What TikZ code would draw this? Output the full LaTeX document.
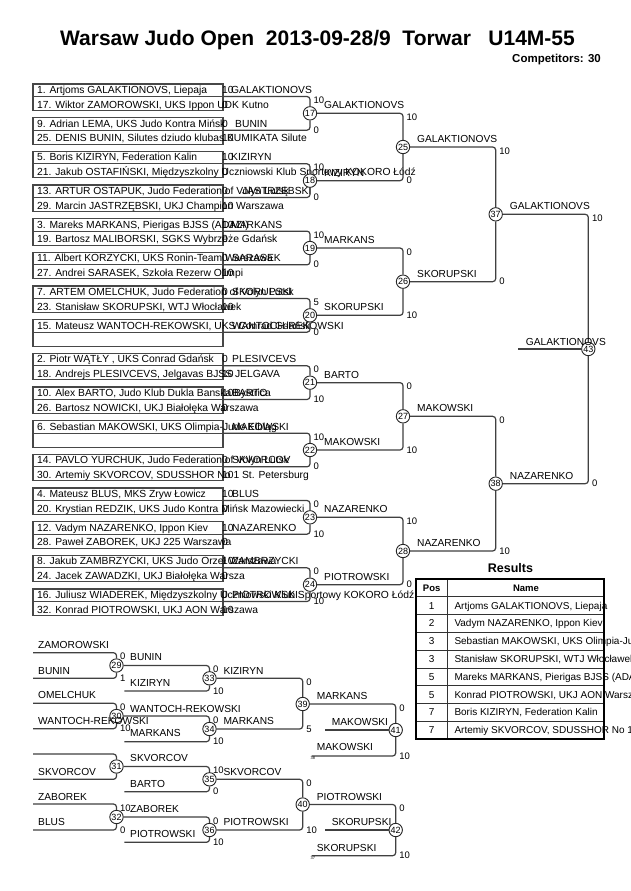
\documentclass[tikz,border=0pt]{standalone}
\usepackage{fontspec}
\setmainfont{Liberation Sans}
\newcommand\jpair[7]{%
 \pgfmathsetmacro\jtop{84+33.667*#1}
 \draw[boxln] (33,\jtop) rectangle (223,\jtop+26.5);
 \draw[boxln] (33,\jtop+12.5) -- (223,\jtop+12.5);
 \coordinate (m#1) at (223,\jtop+12.5);
 \node[ent] (ea#1) at (37,\jtop+9.6) {#2};
 \node[ent] (sa#1) at (222,\jtop+9.6) {#3};
 \node[ent] (eb#1) at (37,\jtop+24.3) {#4};
 \node[ent] (sb#1) at (222,\jtop+24.3) {#5};
 \node[ent] (w#1) at (#7,\jtop+9.6) {#6};
}
\newcommand\scr[6]{%
 \node[sc] (#1t) at (#2+3.5,#3+3.5) {#5};
 \node[sc] (#1b) at (#2+3.5,#4-0.5) {#6};
}
\begin{document}
\begin{tikzpicture}[x=1pt,y=-1pt,
 ln/.style={draw=black!75,line width=1.2pt},
 br/.style={ln,rounded corners=3pt},
 boxln/.style={draw=black!72,line width=1.3pt},
 mc/.style={circle,draw=black!85,line width=0.9pt,fill=white,minimum size=13.4pt,inner sep=0pt,font=\fontsize{9}{9}\selectfont},
 ent/.style={anchor=base west,inner sep=0pt,font=\fontsize{10.3}{12}\selectfont},
 lab/.style={anchor=west,inner sep=0pt,text height=7pt,text depth=0pt,font=\fontsize{10.2}{12}\selectfont},
 sc/.style={anchor=west,inner sep=0pt,text height=7pt,text depth=0pt,font=\fontsize{9.5}{11}\selectfont},
 tinyt/.style={anchor=west,inner sep=0pt,font=\fontsize{4}{4}\selectfont},
 tin/.style={draw=black!80,line width=0.9pt},
 tout/.style={draw=black,line width=1.8pt},
 tname/.style={anchor=west,inner sep=0pt,text height=7pt,text depth=0pt,font=\fontsize{10}{12}\selectfont},
 tpos/.style={inner sep=0pt,text height=7pt,text depth=0pt,font=\fontsize{10}{12}\selectfont},
]
\useasboundingbox (0,0) rectangle (630,891);
\fill[white] (0,0) rectangle (630,891);

% title
\node[font=\bfseries\fontsize{21}{24}\selectfont] (title) at (317.5,40) {Warsaw Judo Open\ \ 2013-09-28/9\ \ Torwar\ \ \ U14M-55};
\node[anchor=east,inner sep=0pt,font=\bfseries\fontsize{11.5}{13}\selectfont] (comp) at (601,60) {Competitors: 30};

% entries
\jpair{0}{1. Artjoms GALAKTIONOVS, Liepaja}{10}{17. Wiktor ZAMOROWSKI, UKS Ippon UDK Kutno}{0}{GALAKTIONOVS}{231}
\jpair{1}{9. Adrian LEMA, UKS Judo Kontra Mińsk}{0}{25. DENIS BUNIN, Silutes dziudo klubas KUMIKATA Silute}{10}{BUNIN}{235}
\jpair{2}{5. Boris KIZIRYN, Federation Kalin}{10}{21. Jakub OSTAFIŃSKI, Międzyszkolny Uczniowski Klub Sportowy KOKORO Łódź}{0}{KIZIRYN}{231}
\jpair{3}{13. ARTUR OSTAPUK, Judo Federation of Volyn Lutsk}{0}{29. Marcin JASTRZĘBSKI, UKJ Champion Warszawa}{10}{JASTRZĘBSKI}{242}
\jpair{4}{3. Mareks MARKANS, Pierigas BJSS (ADAZI)}{10}{19. Bartosz MALIBORSKI, SGKS Wybrzeże Gdańsk}{0}{MARKANS}{231}
\jpair{5}{11. Albert KORZYCKI, UKS Ronin-Team Warszawa}{0}{27. Andrei SARASEK, Szkoła Rezerw Olimpi}{10}{SARASEK}{232}
\jpair{6}{7. ARTEM OMELCHUK, Judo Federation of Volyn Lutsk}{0}{23. Stanisław SKORUPSKI, WTJ Włocławek}{10}{SKORUPSKI}{232}
\jpair{7}{15. Mateusz WANTOCH-REKOWSKI, UKS Conrad Gdańsk}{}{}{}{WANTOCH-REKOWSKI}{232}
\jpair{8}{2. Piotr WĄTŁY , UKS Conrad Gdańsk}{0}{18. Andrejs PLESIVCEVS, Jelgavas BJSS JELGAVA}{10}{PLESIVCEVS}{232}
\jpair{9}{10. Alex BARTO, Judo Klub Dukla Banska Bystrica}{10}{26. Bartosz NOWICKI, UKJ Białołęka Warszawa}{0}{BARTO}{232}
\jpair{10}{6. Sebastian MAKOWSKI, UKS Olimpia-Judo Elbląg}{}{}{}{MAKOWSKI}{232}
\jpair{11}{14. PAVLO YURCHUK, Judo Federation of Volyn Lutsk}{0}{30. Artemiy SKVORCOV, SDUSSHOR No 1 St. Petersburg}{10}{SKVORCOV}{232}
\jpair{12}{4. Mateusz BLUS, MKS Zryw Łowicz}{10}{20. Krystian REDZIK, UKS Judo Kontra Mińsk Mazowiecki}{0}{BLUS}{232}
\jpair{13}{12. Vadym NAZARENKO, Ippon Kiev}{10}{28. Paweł ZABOREK, UKJ 225 Warszawa}{0}{NAZARENKO}{232}
\jpair{14}{8. Jakub ZAMBRZYCKI, UKS Judo Orzeł Warszawa}{10}{24. Jacek ZAWADZKI, UKJ Białołęka Warsza}{0}{ZAMBRZYCKI}{232}
\jpair{15}{16. Juliusz WIADEREK, Międzyszkolny Uczniowski Klub Sportowy KOKORO Łódź}{0}{32. Konrad PIOTROWSKI, UKJ AON Warszawa}{10}{PIOTROWSKI}{232}

% main bracket circles
\node[mc] (c17) at (310,113.33) {17};
\node[mc] (c18) at (310,180.67) {18};
\node[mc] (c19) at (310,248) {19};
\node[mc] (c20) at (310,315.33) {20};
\node[mc] (c21) at (310,382.67) {21};
\node[mc] (c22) at (310,450) {22};
\node[mc] (c23) at (310,517.33) {23};
\node[mc] (c24) at (310,584.67) {24};
\node[mc] (c25) at (403,147) {25};
\node[mc] (c26) at (403,281.67) {26};
\node[mc] (c27) at (403,416.33) {27};
\node[mc] (c28) at (403,551) {28};
\node[mc] (c37) at (495.7,214.33) {37};
\node[mc] (c38) at (495.7,483.67) {38};
\node[mc] (c43) at (588.3,349) {43};
\coordinate (f43) at (518.3,349);

\draw[br] (m0) -| (c17); \draw[br] (m1) -| (c17);
\draw[br] (m2) -| (c18); \draw[br] (m3) -| (c18);
\draw[br] (m4) -| (c19); \draw[br] (m5) -| (c19);
\draw[br] (m6) -| (c20); \draw[br] (m7) -| (c20);
\draw[br] (m8) -| (c21); \draw[br] (m9) -| (c21);
\draw[br] (m10) -| (c22); \draw[br] (m11) -| (c22);
\draw[br] (m12) -| (c23); \draw[br] (m13) -| (c23);
\draw[br] (m14) -| (c24); \draw[br] (m15) -| (c24);
\draw[br] (c17) -| (c25); \draw[br] (c18) -| (c25);
\draw[br] (c19) -| (c26); \draw[br] (c20) -| (c26);
\draw[br] (c21) -| (c27); \draw[br] (c22) -| (c27);
\draw[br] (c23) -| (c28); \draw[br] (c24) -| (c28);
\draw[br] (c25) -| (c37); \draw[br] (c26) -| (c37);
\draw[br] (c27) -| (c38); \draw[br] (c28) -| (c38);
\draw[br] (c37) -| (c43); \draw[br] (c38) -| (c43);
\draw[ln] (c43) -- (f43);

\scr{c17}{310}{96.5}{130.17}{10}{0}
\scr{c18}{310}{163.83}{197.5}{10}{0}
\scr{c19}{310}{231.17}{264.83}{10}{0}
\scr{c20}{310}{298.5}{332.17}{5}{0}
\scr{c21}{310}{365.83}{399.5}{0}{10}
\scr{c22}{310}{433.17}{466.83}{10}{0}
\scr{c23}{310}{500.5}{534.17}{0}{10}
\scr{c24}{310}{567.83}{601.5}{0}{10}
\scr{c25}{403}{113.33}{180.67}{10}{0}
\scr{c26}{403}{248}{315.33}{0}{10}
\scr{c27}{403}{382.67}{450}{0}{10}
\scr{c28}{403}{517.33}{584.67}{10}{0}
\scr{c37}{495.7}{147}{281.67}{10}{0}
\scr{c38}{495.7}{416.33}{551}{0}{10}
\scr{c43}{588.3}{214.33}{483.67}{10}{0}

\node[lab] (c17w) at (324,105.33) {GALAKTIONOVS};
\node[lab] (c18w) at (324,172.67) {KIZIRYN};
\node[lab] (c19w) at (324,240) {MARKANS};
\node[lab] (c20w) at (324,307.33) {SKORUPSKI};
\node[lab] (c21w) at (324,374.67) {BARTO};
\node[lab] (c22w) at (324,442) {MAKOWSKI};
\node[lab] (c23w) at (324,509.33) {NAZARENKO};
\node[lab] (c24w) at (324,576.67) {PIOTROWSKI};
\node[lab] (c25w) at (417,139) {GALAKTIONOVS};
\node[lab] (c26w) at (417,273.67) {SKORUPSKI};
\node[lab] (c27w) at (417,408.33) {MAKOWSKI};
\node[lab] (c28w) at (417,543) {NAZARENKO};
\node[lab] (c37w) at (509.7,206.33) {GALAKTIONOVS};
\node[lab] (c38w) at (509.7,475.67) {NAZARENKO};
\node[lab] (c43w) at (525.7,342) {GALAKTIONOVS};

% repechage
\node[mc] (c29) at (116.5,665.5) {29};
\node[mc] (c30) at (116.5,716) {30};
\node[mc] (c31) at (116.5,766.5) {31};
\node[mc] (c32) at (116.5,817) {32};
\node[mc] (c33) at (209.5,678.3) {33};
\node[mc] (c34) at (209.5,729) {34};
\node[mc] (c35) at (209.5,779.3) {35};
\node[mc] (c36) at (209.5,830) {36};
\node[mc] (c39) at (302.7,704) {39};
\node[mc] (c40) at (302.7,804.5) {40};
\node[mc] (c41) at (395.7,730) {41};
\node[mc] (c42) at (395.7,830) {42};
\coordinate (r29a) at (33,652.7); \coordinate (r29b) at (33,678.3);
\coordinate (r30a) at (33,703.3); \coordinate (r30b) at (33,728.7);
\coordinate (r31a) at (33,754); \coordinate (r31b) at (33,779.3);
\coordinate (r32a) at (33,804); \coordinate (r32b) at (33,830);
\coordinate (r33b) at (124.3,691); \coordinate (r34b) at (124.3,741.7);
\coordinate (r35b) at (124.3,791.7); \coordinate (r36b) at (124.3,842.3);
\coordinate (w41) at (325,730); \coordinate (l41) at (311.7,756);
\coordinate (w42) at (325,830); \coordinate (l42) at (311.7,855.7);

\draw[br] (r29a) -| (c29); \draw[br] (r29b) -| (c29);
\draw[br] (r30a) -| (c30); \draw[br] (r30b) -| (c30);
\draw[br] (r31a) -| (c31); \draw[br] (r31b) -| (c31);
\draw[br] (r32a) -| (c32); \draw[br] (r32b) -| (c32);
\draw[br] (c29) -| (c33); \draw[br] (r33b) -| (c33);
\draw[br] (c30) -| (c34); \draw[br] (r34b) -| (c34);
\draw[br] (c31) -| (c35); \draw[br] (r35b) -| (c35);
\draw[br] (c32) -| (c36); \draw[br] (r36b) -| (c36);
\draw[br] (c33) -| (c39); \draw[br] (c34) -| (c39);
\draw[br] (c35) -| (c40); \draw[br] (c36) -| (c40);
\draw[br] (c39) -| (c41); \draw[ln] (w41) -- (c41); \draw[br] (l41) -| (c41);
\draw[br] (c40) -| (c42); \draw[ln] (w42) -- (c42); \draw[br] (l42) -| (c42);

\scr{c29}{116.5}{652.7}{678.3}{0}{1}
\scr{c30}{116.5}{703.3}{728.7}{0}{10}
\scr{c32}{116.5}{804}{830}{10}{0}
\scr{c33}{209.5}{665.5}{691}{0}{10}
\scr{c34}{209.5}{716}{741.7}{0}{10}
\scr{c35}{209.5}{766.5}{791.7}{10}{0}
\scr{c36}{209.5}{817}{842.3}{0}{10}
\scr{c39}{302.7}{678.3}{729}{0}{5}
\scr{c40}{302.7}{779.3}{830}{0}{10}
\scr{c41}{395.7}{704}{756}{0}{10}
\scr{c42}{395.7}{804.5}{855.7}{0}{10}

\node[lab] (ra1) at (38,645) {ZAMOROWSKI};
\node[lab] (ra2) at (38,670.7) {BUNIN};
\node[lab] (ra3) at (38,695) {OMELCHUK};
\node[lab] (ra4) at (38,720.7) {WANTOCH-REKOWSKI};
\node[lab] (ra6) at (38,771.7) {SKVORCOV};
\node[lab] (ra7) at (38,796.7) {ZABOREK};
\node[lab] (ra8) at (38,822.3) {BLUS};
\node[lab] (rb1) at (130,657.3) {BUNIN};
\node[lab] (rb2) at (130,683.3) {KIZIRYN};
\node[lab] (rb3) at (130,709) {WANTOCH-REKOWSKI};
\node[lab] (rb4) at (130,733.3) {MARKANS};
\node[lab] (rb5) at (130,758.3) {SKVORCOV};
\node[lab] (rb6) at (130,784) {BARTO};
\node[lab] (rb7) at (130,809.3) {ZABOREK};
\node[lab] (rb8) at (130,834.3) {PIOTROWSKI};
\node[lab] (rc1) at (223.3,670.7) {KIZIRYN};
\node[lab] (rc2) at (223.3,721) {MARKANS};
\node[lab] (rc3) at (223.3,771.7) {SKVORCOV};
\node[lab] (rc4) at (223.3,822.3) {PIOTROWSKI};
\node[lab] (rd1) at (316.7,695.7) {MARKANS};
\node[lab] (rd2) at (331.7,721.5) {MAKOWSKI};
\node[lab] (rd3) at (316.7,746.7) {MAKOWSKI};
\node[lab] (rd4) at (316.7,796.7) {PIOTROWSKI};
\node[lab] (rd5) at (331.7,822.3) {SKORUPSKI};
\node[lab] (rd6) at (316.7,847.7) {SKORUPSKI};
\node[tinyt] (t38) at (310.5,758) {38};
\node[tinyt] (t37) at (310.5,857.7) {37};

% results table
\node[font=\bfseries\fontsize{12.5}{14}\selectfont] (restitle) at (510.5,568) {Results};
\draw[tin] (447.7,579) -- (447.7,739.3);
\foreach \i in {1,...,8} \draw[tin] (415.7,579+17.8*\i) -- (604,579+17.8*\i);
\node[tpos,font=\bfseries\fontsize{9.5}{11}\selectfont] (hpos) at (431.7,588) {Pos};
\node[tpos,font=\bfseries\fontsize{9.5}{11}\selectfont] (hname) at (526,588) {Name};
\node[tpos] (p1) at (431.7,605.6) {1};
\node[tname] (n1) at (454.3,605.6) {Artjoms GALAKTIONOVS, Liepaja};
\node[tpos] (p2) at (431.7,623.4) {2};
\node[tname] (n2) at (454.3,623.4) {Vadym NAZARENKO, Ippon Kiev};
\node[tpos] (p3) at (431.7,641.2) {3};
\node[tname] (n3) at (454.3,641.2) {Sebastian MAKOWSKI, UKS Olimpia-Judo Elbląg};
\node[tpos] (p4) at (431.7,659) {3};
\node[tname] (n4) at (454.3,659) {Stanisław SKORUPSKI, WTJ Włocławek};
\node[tpos] (p5) at (431.7,676.8) {5};
\node[tname] (n5) at (454.3,676.8) {Mareks MARKANS, Pierigas BJSS (ADAZI)};
\node[tpos] (p6) at (431.7,694.6) {5};
\node[tname] (n6) at (454.3,694.6) {Konrad PIOTROWSKI, UKJ AON Warszawa};
\node[tpos] (p7) at (431.7,712.4) {7};
\node[tname] (n7) at (454.3,712.4) {Boris KIZIRYN, Federation Kalin};
\node[tpos] (p8) at (431.7,730.2) {7};
\node[tname] (n8) at (454.3,730.2) {Artemiy SKVORCOV, SDUSSHOR No 1 St. Petersburg};
\draw[tout] (415.7,579) rectangle (604,739.3);
\end{tikzpicture}
\end{document}
